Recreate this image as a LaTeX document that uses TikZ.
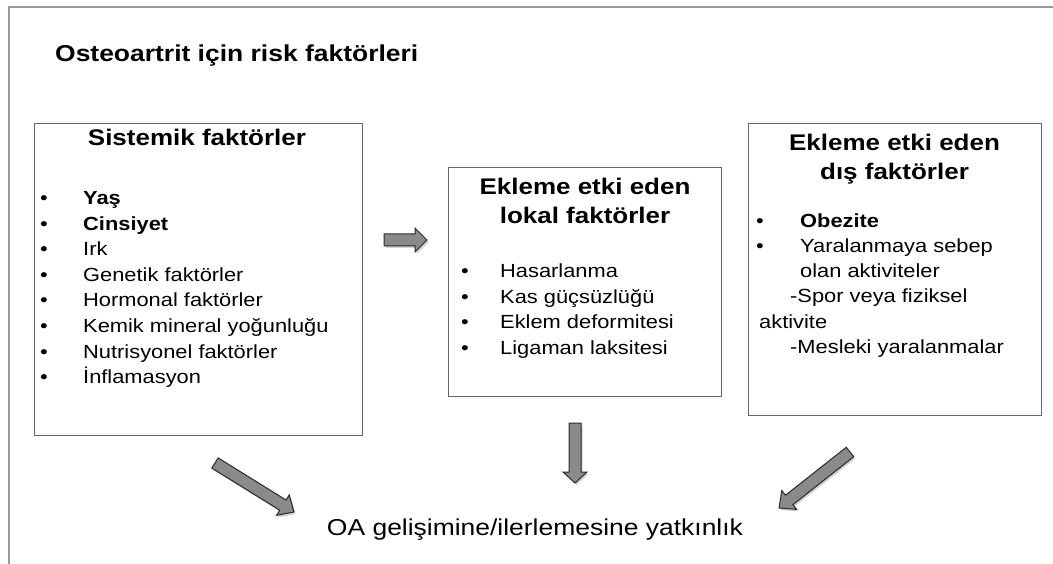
\documentclass[tikz,border=0pt]{standalone}
\usepackage{fontspec}
\setmainfont{Liberation Sans}[FakeStretch=1.15]
\usetikzlibrary{calc}
\definecolor{arrfill}{HTML}{8A8A8A}
\definecolor{arrline}{HTML}{2B2B2B}
\tikzset{
  frame/.style={draw=black!40, line width=1.6pt},
  box/.style={draw=black!60, line width=0.9pt, inner sep=0pt, anchor=north west},
  body/.style={inner sep=0pt, anchor=base west, font=\fontsize{19}{23}\selectfont},
  bodyb/.style={body, font=\fontsize{19}{23}\selectfont\bfseries},
  bul/.style={inner sep=0pt, anchor=base west, font=\fontsize{19}{23}\selectfont},
  boxtitle/.style={inner sep=0pt, anchor=base, font=\fontsize{22.6}{27}\selectfont\bfseries},
  maintitle/.style={inner sep=0pt, anchor=base west, font=\fontsize{23}{27}\selectfont\bfseries},
  result/.style={inner sep=0pt, anchor=base, font=\fontsize{23}{27}\selectfont},
  arrbody/.style={fill=arrfill, draw=arrline, line width=1pt, line join=miter},
  arrshadow/.style={fill=black, opacity=0.18},
}
% #1 start, #2 end, #3 shaft half width, #4 head half width, #5 head length
\newcommand{\blockarrow}[5]{%
  \path let \p1=($(#2)-(#1)$), \n1={atan2(\y1,\x1)}, \n2={veclen(\x1,\y1)} in
    \pgfextra{\xdef\baAng{\n1}\xdef\baLen{\n2}};
  \begin{scope}[shift={(#1)}, shift={(1.5,-2)}, rotate=\baAng]
    \path[arrshadow] (0,-#3) -- ({\baLen-#5},-#3) -- ({\baLen-#5},-#4) -- (\baLen,0)
      -- ({\baLen-#5},#4) -- ({\baLen-#5},#3) -- (0,#3) -- cycle;
  \end{scope}
  \begin{scope}[shift={(#1)}, rotate=\baAng]
    \path[arrbody] (0,-#3) -- ({\baLen-#5},-#3) -- ({\baLen-#5},-#4) -- (\baLen,0)
      -- ({\baLen-#5},#4) -- ({\baLen-#5},#3) -- (0,#3) -- cycle;
  \end{scope}
}
\begin{document}
\begin{tikzpicture}[x=1pt,y=1pt]
\useasboundingbox[fill=white] (0,0) rectangle (1053,-564);
% outer frame
\coordinate (fTR) at (1053,-7);
\coordinate (fTL) at (9,-7);
\coordinate (fBL) at (9,-564);
\draw[frame] (fTR) -- (fTL) -- (fBL);

\node[maintitle] (title) at (55,-62) {Osteoartrit için risk faktörleri};

% boxes
\node[box, minimum width=328pt, minimum height=312pt] (box1) at (34,-123) {};
\node[box, minimum width=273pt, minimum height=229pt] (box2) at (448,-167) {};
\node[box, minimum width=293pt, minimum height=292pt] (box3) at (748,-123) {};

% box 1
\node[boxtitle] (b1t) at (197,-146) {Sistemik faktörler};
\node[bul] (b1d1) at (40,-205) {•};
\node[bul] (b1d2) at (40,-230.5) {•};
\node[bul] (b1d3) at (40,-256) {•};
\node[bul] (b1d4) at (40,-281.5) {•};
\node[bul] (b1d5) at (40,-307) {•};
\node[bul] (b1d6) at (40,-332.5) {•};
\node[bul] (b1d7) at (40,-358) {•};
\node[bul] (b1d8) at (40,-383.5) {•};
\node[bodyb] (b1i1) at (83,-205) {Yaş};
\node[bodyb] (b1i2) at (83,-230.5) {Cinsiyet};
\node[body] (b1i3) at (83,-256) {Irk};
\node[body] (b1i4) at (83,-281.5) {Genetik faktörler};
\node[body] (b1i5) at (83,-307) {Hormonal faktörler};
\node[body] (b1i6) at (83,-332.5) {Kemik mineral yoğunluğu};
\node[body] (b1i7) at (83,-358) {Nutrisyonel faktörler};
\node[body] (b1i8) at (83,-383.5) {İnflamasyon};

% box 2
\node[boxtitle] (b2t1) at (585,-195) {Ekleme etki eden};
\node[boxtitle] (b2t2) at (585,-224) {lokal faktörler};
\node[bul] (b2d1) at (461,-278) {•};
\node[bul] (b2d2) at (461,-303.5) {•};
\node[bul] (b2d3) at (461,-329) {•};
\node[bul] (b2d4) at (461,-354.5) {•};
\node[body] (b2i1) at (500,-278) {Hasarlanma};
\node[body] (b2i2) at (500,-303.5) {Kas güçsüzlüğü};
\node[body] (b2i3) at (500,-329) {Eklem deformitesi};
\node[body] (b2i4) at (500,-354.5) {Ligaman laksitesi};

% box 3
\node[boxtitle] (b3t1) at (894.5,-151) {Ekleme etki eden};
\node[boxtitle] (b3t2) at (894.5,-180) {dış faktörler};
\node[bul] (b3d1) at (756,-228) {•};
\node[bul] (b3d2) at (756,-253) {•};
\node[bodyb] (b3i1) at (800,-228) {Obezite};
\node[body] (b3i2) at (800,-253) {Yaralanmaya sebep};
\node[body] (b3i3) at (800,-278) {olan aktiviteler};
\node[body] (b3i4) at (790,-303) {-Spor veya fiziksel};
\node[body] (b3i5) at (759,-328) {aktivite};
\node[body] (b3i6) at (790,-353) {-Mesleki yaralanmalar};

% result
\node[result] (res) at (535,-535) {OA gelişimine/ilerlemesine yatkınlık};

% block arrows
\coordinate (a1s) at (384,-240); \coordinate (a1e) at (427,-240);
\coordinate (a2s) at (575,-423); \coordinate (a2e) at (575,-483);
\coordinate (a3s) at (215,-463); \coordinate (a3e) at (294,-512);
\coordinate (a4s) at (850,-452); \coordinate (a4e) at (779,-508);
\blockarrow{a1s}{a1e}{6}{12}{12}
\blockarrow{a2s}{a2e}{6}{12}{11}
\blockarrow{a3s}{a3e}{6}{12}{13}
\blockarrow{a4s}{a4e}{6}{12}{13}
\end{tikzpicture}
\end{document}
